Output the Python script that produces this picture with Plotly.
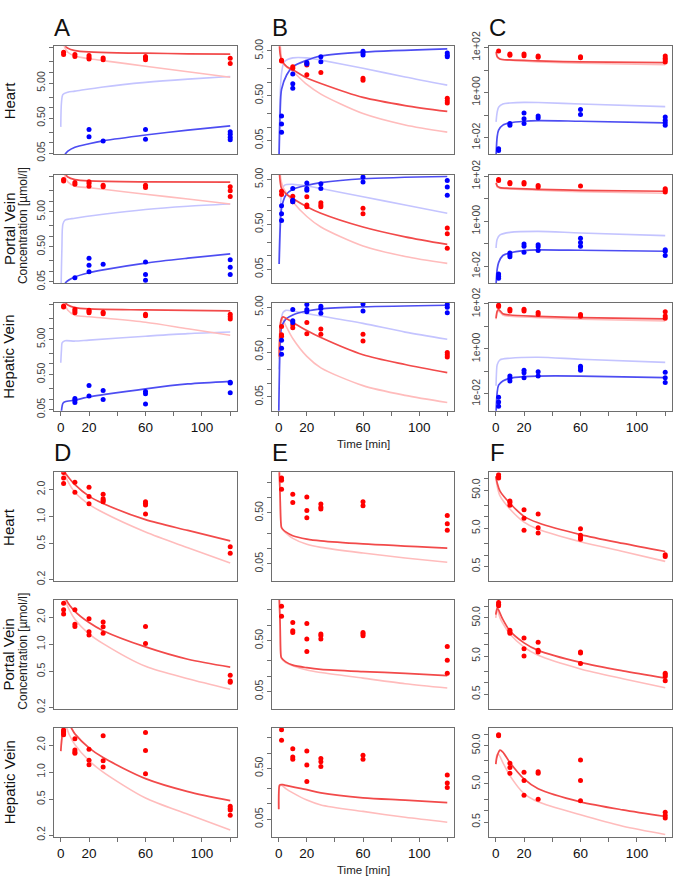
import plotly.graph_objects as go

# ---------------- data (time in min, concentration in µmol/l) ----------------
X_TICKS = [0, 20, 40, 60, 80, 100, 120]
X_TICKTEXT = ["0", "20", "", "60", "", "100", ""]
ROW_LABELS = ["Heart", "Portal Vein", "Hepatic Vein"]
PANEL_LETTERS = ["A", "B", "C", "D", "E", "F"]

# Panel A (Heart / Portal / Hepatic)
A1_red_pts = [(2, 37.9), (2, 32.7), (10, 32.7), (10, 28.7), (20, 30.6), (20, 26.9), (20, 24.2), (30, 25.8), (30, 23.2), (60, 28.7), (60, 25.8), (60, 23.2), (120, 25.3), (120, 18.0)]
A1_blue_pts = [(20, 0.237), (20, 0.148), (30, 0.112), (60, 0.237), (60, 0.125), (120, 0.204), (120, 0.172), (120, 0.142), (120, 0.12)]
A1_red_fit = [(2.5, 80), (3.5, 55.6), (5, 49), (10, 42.2), (20, 38.7), (40, 36.3), (60, 35.6), (90, 34.1), (120, 33.4)]
A1_red_light = [(1.8, 80), (2.5, 55.6), (5, 37.9), (10, 29.4), (20, 24.7), (30, 21.8), (60, 15.1), (90, 10.5), (120, 7.35)]
A1_blue_fit = [(2, 0.035), (3, 0.0459), (5, 0.0569), (10, 0.0734), (20, 0.0927), (30, 0.112), (60, 0.165), (90, 0.227), (120, 0.30)]
A1_blue_light = [(0, 0.281), (0.5, 1.39), (1.5, 2.37), (5, 2.75), (10, 2.94), (30, 3.87), (60, 5.22), (90, 6.46), (120, 7.66)]

A2_red_pts = [(2, 41.3), (2, 37.9), (10, 34.0), (10, 30.6), (20, 35.6), (20, 32.0), (20, 26.9), (30, 28.7), (30, 25.8), (60, 28.7), (60, 24.7), (120, 25.8), (120, 20.0), (120, 13.6)]
A2_blue_pts = [(10, 0.066), (20, 0.237), (20, 0.148), (20, 0.0968), (30, 0.158), (60, 0.184), (60, 0.0817), (60, 0.0556), (120, 0.213), (120, 0.13), (120, 0.0817)]
A2_red_fit = [(2.5, 80), (3.5, 58), (5, 49), (10, 41.3), (20, 37.9), (60, 35.6), (120, 34.8)]
A2_red_light = [(1.8, 80), (2.5, 58), (5, 35.6), (10, 26.9), (20, 24.2), (30, 21.8), (60, 15.8), (90, 11.5), (120, 8.33)]
A2_blue_fit = [(2.5, 0.035), (3.5, 0.048), (10, 0.0689), (20, 0.0908), (30, 0.110), (60, 0.172), (90, 0.237), (120, 0.313)]
A2_blue_light = [(0.2, 0.03), (0.8, 0.45), (1.5, 2.22), (3, 2.87), (10, 3.27), (30, 4.22), (60, 5.8), (90, 7.18), (120, 8.34)]

A3_red_pts = [(2, 45), (2, 42.2), (10, 36.3), (10, 32.7), (10, 28.7), (20, 34), (20, 31.3), (20, 28.7), (30, 30), (30, 26.9), (60, 26.4), (60, 23.7), (120, 26.4), (120, 22.2), (120, 19.1)]
A3_blue_pts = [(10, 0.103), (10, 0.093), (10, 0.080), (20, 0.242), (20, 0.122), (30, 0.176), (30, 0.097), (60, 0.165), (60, 0.142), (60, 0.0718), (120, 0.30), (120, 0.287), (120, 0.151)]
A3_red_fit = [(2.5, 80), (3.5, 55.6), (5, 47.9), (10, 40.4), (20, 37.1), (60, 34.8), (120, 32.7)]
A3_red_light = [(1.8, 80), (2.5, 55.6), (5, 34), (10, 24.7), (20, 22.2), (30, 20.4), (60, 15.5), (90, 10.1), (120, 6.6)]
A3_blue_fit = [(0.3, 0.03), (0.5, 0.046), (1.5, 0.075), (3, 0.0834), (10, 0.0929), (20, 0.115), (30, 0.133), (60, 0.196), (90, 0.269), (120, 0.32)]
A3_blue_light = [(0, 1.08), (0.5, 2.53), (1, 4.04), (3, 4.59), (10, 4.5), (20, 4.79), (60, 6.19), (90, 7.35), (120, 8.17)]

# Panel B
B1_red_pts = [(2, 3.08), (2, 2.94), (10, 2.21), (10, 2.04), (20, 2.61), (20, 2.40), (20, 1.46), (30, 1.64), (60, 1.22), (60, 1.10), (120, 0.435), (120, 0.387), (120, 0.344)]
B1_blue_pts = [(2, 0.177), (2, 0.117), (2, 0.077), (10, 1.51), (10, 0.918), (10, 0.728), (20, 2.75), (20, 2.53), (30, 3.65), (30, 2.84), (60, 4.84), (60, 4.45), (60, 4.03), (120, 4.45), (120, 3.96), (120, 3.65)]
B1_red_fit = [(0.2, 10), (1, 4.2), (2, 3.08), (5.7, 2.21), (10, 1.88), (20, 1.24), (30, 0.933), (60, 0.456), (90, 0.301), (120, 0.223)]
B1_red_light = [(0.5, 10), (1.2, 6), (3, 2.61), (10, 1.73), (20, 0.887), (30, 0.539), (60, 0.199), (90, 0.111), (120, 0.077)]
B1_blue_fit = [(0.2, 0.02), (1, 0.216), (2, 0.692), (5.7, 1.46), (10, 2.21), (20, 3.08), (30, 3.83), (60, 4.68), (120, 5.52)]
B1_blue_light = [(0.3, 0.02), (1, 0.5), (2, 1.59), (4, 2.84), (10, 3.47), (20, 3.47), (30, 3.09), (60, 2.04), (90, 1.30), (120, 0.859)]

B2_red_pts = [(2, 2.73), (2, 2.31), (10, 2.12), (10, 1.73), (10, 1.60), (20, 2.05), (20, 1.35), (20, 1.24), (30, 1.52), (30, 1.35), (30, 1.24), (60, 1.14), (60, 0.857), (120, 0.416), (120, 0.307), (120, 0.147)]
B2_blue_pts = [(2, 1.30), (2, 0.857), (2, 0.612), (10, 3.13), (10, 1.73), (10, 1.60), (20, 4.16), (20, 3.13), (20, 2.87), (30, 4.02), (30, 3.13), (60, 5.62), (60, 4.37), (120, 4.75), (120, 3.40), (120, 2.23)]
B2_red_fit = [(0.2, 10), (1, 4.5), (2, 3.13), (5, 2.43), (10, 1.89), (20, 1.24), (30, 0.885), (60, 0.437), (90, 0.264), (120, 0.179)]
B2_red_light = [(0.8, 10), (1.5, 5), (3, 3.4), (10, 1.60), (20, 0.748), (30, 0.437), (60, 0.165), (90, 0.0964), (120, 0.0676)]
B2_blue_fit = [(0.3, 0.0655), (1, 0.382), (2, 1.14), (5, 2.23), (10, 3.02), (20, 3.70), (30, 4.23), (60, 5.18), (120, 5.82)]
B2_blue_light = [(0.3, 0.0655), (1, 0.748), (2, 2.43), (4, 3.70), (10, 3.89), (20, 3.57), (30, 3.13), (60, 2.05), (90, 1.35), (120, 0.885)]

B3_red_pts = [(2, 1.85), (2, 1.22), (2, 1.12), (10, 2.04), (10, 1.73), (20, 2.29), (20, 1.28), (30, 1.64), (30, 1.24), (60, 1.24), (60, 0.887), (120, 0.488), (120, 0.435), (120, 0.387)]
B3_blue_pts = [(2, 0.918), (2, 0.605), (2, 0.449), (10, 4.45), (10, 2.49), (10, 2.29), (20, 5.71), (20, 4.45), (20, 3.96), (30, 5.26), (30, 4.68), (30, 3.65), (60, 5.90), (60, 4.10), (120, 5.71), (120, 5.0), (120, 3.77)]
B3_red_fit = [(0.3, 0.4), (0.5, 0.777), (1.5, 2.49), (3, 3.04), (5, 2.84), (10, 2.29), (20, 1.51), (30, 1.05), (60, 0.435), (90, 0.264), (120, 0.174)]
B3_red_light = [(0.3, 0.35), (0.5, 0.657), (1.5, 2.1), (2.5, 2.7), (5, 1.94), (10, 1.0), (20, 0.40), (30, 0.223), (60, 0.0895), (90, 0.0543), (120, 0.0377)]
B3_blue_fit = [(0, 0.02), (1, 0.715), (2, 1.78), (5, 2.7), (10, 3.36), (20, 4.10), (30, 4.60), (60, 5.08), (120, 5.52)]
B3_blue_light = [(0.3, 0.206), (1, 1.51), (2, 2.94), (3, 3.8), (5, 4.24), (10, 4.10), (20, 3.59), (30, 3.19), (60, 2.18), (90, 1.39), (120, 0.964)]

# Panel C
C1_red_pts = [(2, 69.4), (10, 51.3), (10, 44.9), (20, 51.3), (20, 43.4), (30, 42.0), (30, 36.7), (60, 39.3), (60, 35.6), (120, 42.0), (120, 33.3), (120, 28.1), (120, 23.0)]
C1_blue_pts = [(2, 0.00321), (2, 0.00263), (10, 0.042), (10, 0.0356), (20, 0.122), (20, 0.0693), (20, 0.042), (30, 0.0906), (30, 0.0741), (60, 0.176), (60, 0.107), (120, 0.0818), (120, 0.0586), (120, 0.0449), (120, 0.0356)]
C1_red_fit = [(0.3, 64.9), (1, 39.3), (3, 31.1), (10, 28.1), (30, 25.5), (60, 23.0), (120, 21.5)]
C1_red_light = [(0.3, 58.6), (1, 36.7), (3, 30.1), (10, 27.2), (30, 23.0), (60, 20.1), (120, 17.1)]
C1_blue_fit = [(0.2, 0.0015), (1, 0.011), (2, 0.0215), (5, 0.0356), (10, 0.0449), (20, 0.0531), (30, 0.0567), (60, 0.0531), (120, 0.0449)]
C1_blue_light = [(0.2, 0.0497), (1, 0.135), (2, 0.223), (5, 0.311), (10, 0.344), (20, 0.367), (30, 0.36), (60, 0.311), (120, 0.238)]

C2_red_pts = [(2, 71.6), (2, 64.9), (10, 53.1), (10, 46.5), (20, 53.1), (20, 44.9), (30, 39.3), (30, 33.3), (60, 36.7), (120, 28.1), (120, 23.8), (120, 20.1)]
C2_blue_pts = [(2, 0.00449), (2, 0.00356), (2, 0.00291), (10, 0.0393), (10, 0.0321), (10, 0.0263), (20, 0.0968), (20, 0.0766), (20, 0.042), (30, 0.0906), (30, 0.0741), (30, 0.0497), (60, 0.176), (60, 0.114), (60, 0.0766), (120, 0.0548), (120, 0.0465), (120, 0.030)]
C2_red_fit = [(0.3, 51.3), (1, 36.7), (3, 31.1), (10, 29.1), (30, 26.3), (60, 23.8), (120, 21.5)]
C2_red_light = [(0.3, 47.9), (1, 33.3), (3, 29.1), (10, 27.2), (30, 23.8), (60, 20.8), (120, 17.6)]
C2_blue_fit = [(0.2, 0.0015), (1, 0.0074), (2, 0.0145), (5, 0.030), (10, 0.0393), (20, 0.0497), (30, 0.0531), (60, 0.0513), (120, 0.0465)]
C2_blue_light = [(0.2, 0.0649), (1, 0.160), (3, 0.246), (10, 0.321), (30, 0.356), (60, 0.301), (120, 0.23)]

C3_red_pts = [(2, 87.5), (2, 76.7), (10, 58.8), (10, 48.2), (20, 58.8), (20, 48.2), (30, 42.2), (30, 34.5), (60, 34.5), (60, 28.3), (120, 45.1), (120, 29.2), (120, 23.2)]
C3_blue_pts = [(2, 0.00723), (2, 0.00438), (2, 0.00285), (10, 0.0627), (10, 0.0497), (10, 0.038), (20, 0.114), (20, 0.0873), (20, 0.053), (30, 0.0964), (30, 0.0627), (60, 0.169), (60, 0.144), (60, 0.114), (120, 0.0933), (120, 0.053), (120, 0.0322)]
C3_red_fit = [(0.2, 23.2), (1, 48.2), (2, 56.9), (5, 36.9), (10, 32.3), (30, 28.3), (60, 24.8), (120, 21.7)]
C3_red_light = [(0.2, 21.0), (1, 40.7), (2, 48.2), (5, 32.3), (10, 28.3), (30, 24.8), (60, 21.0), (120, 17.8)]
C3_blue_fit = [(0.2, 0.0015), (1, 0.0119), (2, 0.0247), (5, 0.038), (10, 0.0497), (20, 0.0586), (30, 0.0627), (60, 0.0627), (120, 0.053)]
C3_blue_light = [(0.2, 0.0231), (0.5, 0.0873), (1, 0.20), (3, 0.33), (10, 0.389), (30, 0.43), (60, 0.352), (120, 0.253)]

# Panel D
D1_red_pts = [(2, 3.10), (2, 2.69), (2, 2.33), (10, 2.41), (10, 1.87), (20, 2.12), (20, 1.67), (20, 1.39), (30, 1.77), (30, 1.58), (30, 1.52), (30, 1.46), (60, 1.46), (60, 1.41), (60, 1.35), (60, 1.07), (120, 0.463), (120, 0.392)]
D1_red_fit = [(2, 4), (3, 3.1), (5, 2.8), (10, 2.27), (20, 1.69), (30, 1.40), (60, 0.927), (90, 0.703), (120, 0.538)]
D1_red_light = [(1.5, 4), (2.5, 3.1), (5, 2.47), (10, 1.87), (20, 1.37), (30, 1.11), (60, 0.675), (90, 0.451), (120, 0.305)]

D2_red_pts = [(2, 2.87), (2, 2.43), (2, 2.18), (10, 2.43), (10, 1.67), (10, 1.58), (20, 1.93), (20, 1.38), (20, 1.27), (30, 1.77), (30, 1.57), (30, 1.33), (60, 1.58), (60, 1.02), (120, 0.455), (120, 0.392), (120, 0.379)]
D2_red_fit = [(3, 4), (4, 3.12), (10, 2.33), (20, 1.75), (30, 1.42), (60, 0.937), (90, 0.684), (120, 0.56)]
D2_red_light = [(2, 4), (3, 3.12), (10, 1.90), (20, 1.31), (30, 1.02), (60, 0.57), (90, 0.415), (120, 0.318)]

D3_red_pts = [(2, 2.94), (2, 2.82), (2, 2.71), (2, 2.60), (10, 2.35), (10, 1.76), (10, 1.67), (10, 1.62), (20, 1.79), (20, 1.35), (20, 1.21), (30, 2.53), (30, 1.34), (30, 1.14), (60, 2.75), (60, 1.74), (60, 0.959), (120, 0.418), (120, 0.395), (120, 0.379), (120, 0.332)]
D3_red_fit = [(0, 1.71), (1, 2.6), (2, 3.4), (5, 3.5), (10, 2.66), (20, 1.86), (30, 1.45), (60, 0.847), (90, 0.608), (120, 0.482)]
D3_red_light = [(0, 1.71), (1, 2.6), (2, 3.3), (3.5, 3.25), (6, 2.6), (10, 2.02), (20, 1.34), (30, 1.0), (60, 0.515), (90, 0.34), (120, 0.228)]

# Panel E
E1_red_pts = [(2, 2.43), (2, 2.19), (2, 1.45), (10, 1.16), (10, 0.80), (20, 1.03), (20, 0.555), (20, 0.401), (30, 0.745), (30, 0.643), (30, 0.597), (60, 0.826), (60, 0.692), (120, 0.445), (120, 0.307), (120, 0.229)]
E1_red_fit = [(0.3, 4), (1, 1.0), (1.5, 0.331), (2, 0.258), (3, 0.236), (5, 0.212), (10, 0.178), (20, 0.153), (30, 0.141), (60, 0.123), (120, 0.102)]
E1_red_light = [(0.3, 4), (1, 1.0), (1.5, 0.331), (2, 0.25), (5, 0.203), (10, 0.158), (20, 0.121), (30, 0.105), (60, 0.0813), (90, 0.0652), (120, 0.0538)]

E2_red_pts = [(2, 2.36), (2, 1.51), (10, 1.13), (10, 0.778), (10, 0.723), (20, 1.09), (20, 0.538), (20, 0.307), (30, 0.672), (30, 0.624), (30, 0.538), (60, 0.723), (60, 0.672), (60, 0.624), (120, 0.384), (120, 0.206), (120, 0.114)]
E2_red_fit = [(0.3, 4), (1, 1.0), (1.5, 0.258), (2, 0.229), (5, 0.191), (10, 0.165), (20, 0.147), (30, 0.136), (60, 0.123), (90, 0.114), (120, 0.103)]
E2_red_light = [(0.3, 4), (1, 1.0), (1.5, 0.258), (2, 0.222), (5, 0.186), (10, 0.160), (20, 0.132), (30, 0.118), (60, 0.0916), (90, 0.0713), (120, 0.0588)]

E3_red_pts = [(2, 2.85), (2, 1.78), (10, 1.21), (10, 0.838), (10, 0.755), (20, 1.09), (20, 0.58), (20, 0.277), (30, 0.778), (30, 0.672), (30, 0.546), (60, 0.902), (60, 0.755), (120, 0.372), (120, 0.258), (120, 0.21)]
E3_red_fit = [(0, 0.079), (0.5, 0.232), (1, 0.239), (3, 0.239), (5, 0.232), (10, 0.216), (20, 0.191), (30, 0.165), (60, 0.132), (90, 0.119), (120, 0.106)]
E3_red_light = [(0, 0.079), (0.5, 0.22), (2, 0.232), (5, 0.20), (10, 0.165), (20, 0.119), (30, 0.0957), (60, 0.0713), (90, 0.0546), (120, 0.0437)]

# Panel F
F1_red_pts = [(2, 126), (2, 114), (2, 103), (10, 26.1), (10, 23.7), (10, 20.2), (20, 15.3), (20, 9.2), (20, 4.45), (30, 11.9), (30, 5.2), (30, 3.8), (60, 4.9), (60, 3.31), (60, 2.83), (60, 2.61), (120, 1.02), (120, 0.92)]
F1_red_fit = [(0, 114), (1, 77), (3, 47.1), (10, 22.7), (20, 10.3), (30, 6.98), (60, 3.44), (90, 2.02), (120, 1.24)]
F1_red_light = [(0, 114), (1, 63.4), (3, 35.1), (10, 16), (20, 7.26), (30, 4.71), (60, 2.23), (90, 1.24), (120, 0.685)]

F2_red_pts = [(2, 126), (2, 114), (2, 103), (10, 23.8), (10, 21.5), (10, 19.9), (20, 14.8), (20, 7.76), (20, 5.04), (30, 11.5), (30, 7.05), (30, 6.38), (60, 6.38), (60, 6.03), (60, 3.21), (120, 1.79), (120, 1.62), (120, 1.47), (120, 1.14)]
F2_red_fit = [(0, 60.8), (1, 90), (2, 80), (5, 45.3), (10, 22.8), (20, 11.1), (30, 7.05), (60, 3.41), (90, 2.05), (120, 1.33)]
F2_red_light = [(0, 50), (1, 81.7), (3, 50), (5, 35.8), (10, 18.8), (20, 8.57), (30, 5.25), (60, 2.31), (90, 1.28), (120, 0.74)]

F3_red_pts = [(2, 95.7), (2, 90.2), (10, 17.3), (10, 13.4), (10, 9.4), (20, 9.96), (20, 6.08), (20, 2.51), (30, 10.3), (30, 9.4), (30, 1.98), (60, 21), (60, 6.08), (60, 1.8), (120, 0.90), (120, 0.74), (120, 0.634)]
F3_red_fit = [(0, 16.3), (1, 26.6), (3, 37.9), (5, 33.7), (10, 18), (20, 6.71), (30, 3.72), (60, 1.69), (90, 1.04), (120, 0.698)]
F3_red_light = [(0, 16.3), (1, 29.4), (2, 29.4), (5, 18), (10, 8.18), (20, 2.77), (30, 1.69), (60, 0.771), (90, 0.387), (120, 0.237)]

# y axis ticks per column letter (log10 range, tick values, tick labels)
Y_AXES = {
    "A": ([-1.337, 1.75], [0.05, 0.1, 0.2, 0.5, 1, 2, 5, 10, 20, 50], ["0.05", "", "", "0.50", "", "", "5.00", "", "", ""]),
    "B": ([-1.61, 0.80], [0.05, 0.1, 0.2, 0.5, 1, 2, 5], ["0.05", "", "", "0.50", "", "", "5.00"]),
    "C": ([-2.75, 2.06], [0.01, 0.1, 1, 10, 100], ["1e-02", "", "1e+00", "", "1e+02"]),
    "D": ([-0.72, 0.493], [0.2, 0.5, 1, 2], ["0.2", "0.5", "1.0", "2.0"]),
    "E": ([-1.648, 0.497], [0.05, 0.1, 0.2, 0.5, 1, 2], ["0.05", "", "", "0.50", "", ""]),
    "F": ([-0.69, 2.165], [0.5, 1, 2, 5, 10, 20, 50, 100], ["0.5", "", "", "5.0", "", "", "50.0", ""]),
}

# ---------------- layout geometry (pixels) ----------------
W, H = 675, 880
COLS = [(54, 237), (272, 454), (489, 672)]
ROWS = [[(32, 143), (164, 275), (295, 406)], [(469, 581), (600, 712), (731, 843)]]
FONT = "Liberation Sans, Arial, Helvetica, sans-serif"

RED, RED_FIT, RED_LIGHT = "#ff0000", "#f24a4a", "#ffbcbc"
BLUE, BLUE_FIT, BLUE_LIGHT = "#0000ff", "#4d4df2", "#c4c4ff"

panels = [
    ("A", 0, 0, 0, A1_red_pts, A1_blue_pts, A1_red_fit, A1_red_light, A1_blue_fit, A1_blue_light),
    ("A", 0, 0, 1, A2_red_pts, A2_blue_pts, A2_red_fit, A2_red_light, A2_blue_fit, A2_blue_light),
    ("A", 0, 0, 2, A3_red_pts, A3_blue_pts, A3_red_fit, A3_red_light, A3_blue_fit, A3_blue_light),
    ("B", 0, 1, 0, B1_red_pts, B1_blue_pts, B1_red_fit, B1_red_light, B1_blue_fit, B1_blue_light),
    ("B", 0, 1, 1, B2_red_pts, B2_blue_pts, B2_red_fit, B2_red_light, B2_blue_fit, B2_blue_light),
    ("B", 0, 1, 2, B3_red_pts, B3_blue_pts, B3_red_fit, B3_red_light, B3_blue_fit, B3_blue_light),
    ("C", 0, 2, 0, C1_red_pts, C1_blue_pts, C1_red_fit, C1_red_light, C1_blue_fit, C1_blue_light),
    ("C", 0, 2, 1, C2_red_pts, C2_blue_pts, C2_red_fit, C2_red_light, C2_blue_fit, C2_blue_light),
    ("C", 0, 2, 2, C3_red_pts, C3_blue_pts, C3_red_fit, C3_red_light, C3_blue_fit, C3_blue_light),
    ("D", 1, 0, 0, D1_red_pts, None, D1_red_fit, D1_red_light, None, None),
    ("D", 1, 0, 1, D2_red_pts, None, D2_red_fit, D2_red_light, None, None),
    ("D", 1, 0, 2, D3_red_pts, None, D3_red_fit, D3_red_light, None, None),
    ("E", 1, 1, 0, E1_red_pts, None, E1_red_fit, E1_red_light, None, None),
    ("E", 1, 1, 1, E2_red_pts, None, E2_red_fit, E2_red_light, None, None),
    ("E", 1, 1, 2, E3_red_pts, None, E3_red_fit, E3_red_light, None, None),
    ("F", 1, 2, 0, F1_red_pts, None, F1_red_fit, F1_red_light, None, None),
    ("F", 1, 2, 1, F2_red_pts, None, F2_red_fit, F2_red_light, None, None),
    ("F", 1, 2, 2, F3_red_pts, None, F3_red_fit, F3_red_light, None, None),
]

fig = go.Figure()
layout = {}


def line_trace(pts, color, width, k):
    return go.Scatter(x=[p[0] for p in pts], y=[p[1] for p in pts], mode="lines",
                      line=dict(color=color, width=width, shape="spline", smoothing=0.8),
                      xaxis=f"x{k}", yaxis=f"y{k}", hoverinfo="skip")


def point_trace(pts, color, k):
    return go.Scatter(x=[p[0] for p in pts], y=[p[1] for p in pts], mode="markers",
                      marker=dict(color=color, size=5, line=dict(width=0)),
                      xaxis=f"x{k}", yaxis=f"y{k}")


for k, (letter, blk, col, row, rpts, bpts, rfit, rlight, bfit, blight) in enumerate(panels, start=1):
    if blight:
        fig.add_trace(line_trace(blight, BLUE_LIGHT, 1.6, k))
    fig.add_trace(line_trace(rlight, RED_LIGHT, 1.6, k))
    if bfit:
        fig.add_trace(line_trace(bfit, BLUE_FIT, 1.7, k))
    fig.add_trace(line_trace(rfit, RED_FIT, 1.7, k))
    fig.add_trace(point_trace(rpts, RED, k))
    if bpts:
        fig.add_trace(point_trace(bpts, BLUE, k))

    x0, x1 = COLS[col]
    y0, y1 = ROWS[blk][row]
    bottom = row == 2
    yr, yt, ytt = Y_AXES[letter]
    layout[f"xaxis{k}"] = dict(
        domain=[x0 / W, x1 / W], anchor=f"y{k}", range=[-4.8, 124.8],
        showline=True, mirror=True, linecolor="#6e6e6e", linewidth=1,
        showgrid=False, zeroline=False,
        ticks="outside" if bottom else "", ticklen=4, tickcolor="#6e6e6e",
        tickvals=X_TICKS, ticktext=X_TICKTEXT, showticklabels=bottom,
        tickfont=dict(family=FONT, size=13.5, color="#111111"),
    )
    layout[f"yaxis{k}"] = dict(
        domain=[1 - y1 / H, 1 - y0 / H], anchor=f"x{k}", type="log", range=yr,
        showline=True, mirror=True, linecolor="#6e6e6e", linewidth=1,
        showgrid=False, zeroline=False,
        ticks="outside", ticklen=4, tickcolor="#6e6e6e",
        tickvals=yt, ticktext=ytt, tickangle=-90,
        tickfont=dict(family=FONT, size=10.5, color="#444444"),
    )

annotations = []
# panel letters
letter_pos = [(62, 13), (280, 13), (497, 13), (62, 449), (280, 449), (497, 449)]
for lt, (px, py) in zip(PANEL_LETTERS, letter_pos):
    annotations.append(dict(text=lt, x=px / W, y=1 - py / H, xref="paper", yref="paper",
                            showarrow=False, xanchor="center", yanchor="middle",
                            font=dict(family=FONT, size=24, color="#111111")))
# row labels
for blk in range(2):
    for r, lab in enumerate(ROW_LABELS):
        y0, y1 = ROWS[blk][r]
        annotations.append(dict(text=lab, x=9 / W, y=1 - (y0 + y1) / 2 / H, xref="paper", yref="paper",
                                showarrow=False, textangle=-90, xanchor="center", yanchor="middle",
                                font=dict(family=FONT, size=15, color="#111111")))
    y0, y1 = ROWS[blk][1]
    annotations.append(dict(text="Concentration [µmol/l]", x=23 / W, y=1 - ((y0 + y1) / 2 - 3) / H,
                            xref="paper", yref="paper", showarrow=False, textangle=-90,
                            xanchor="center", yanchor="middle",
                            font=dict(family=FONT, size=12, color="#222222")))
    # "Time [min]" just below the tick labels of the middle column
    annotations.append(dict(text="Time [min]", x=363 / W, y=1 - (ROWS[blk][2][1] + 26) / H,
                            xref="paper", yref="paper", showarrow=False,
                            xanchor="center", yanchor="top",
                            font=dict(family=FONT, size=11.5, color="#222222")))

fig.update_layout(width=W, height=H, margin=dict(l=0, r=0, t=0, b=0),
                  paper_bgcolor="white", plot_bgcolor="white", showlegend=False,
                  annotations=annotations, **layout)

fig.write_html("out.html", config={"displayModeBar": False},
               post_script="document.body.style.margin='0';document.body.style.overflow='hidden';")
